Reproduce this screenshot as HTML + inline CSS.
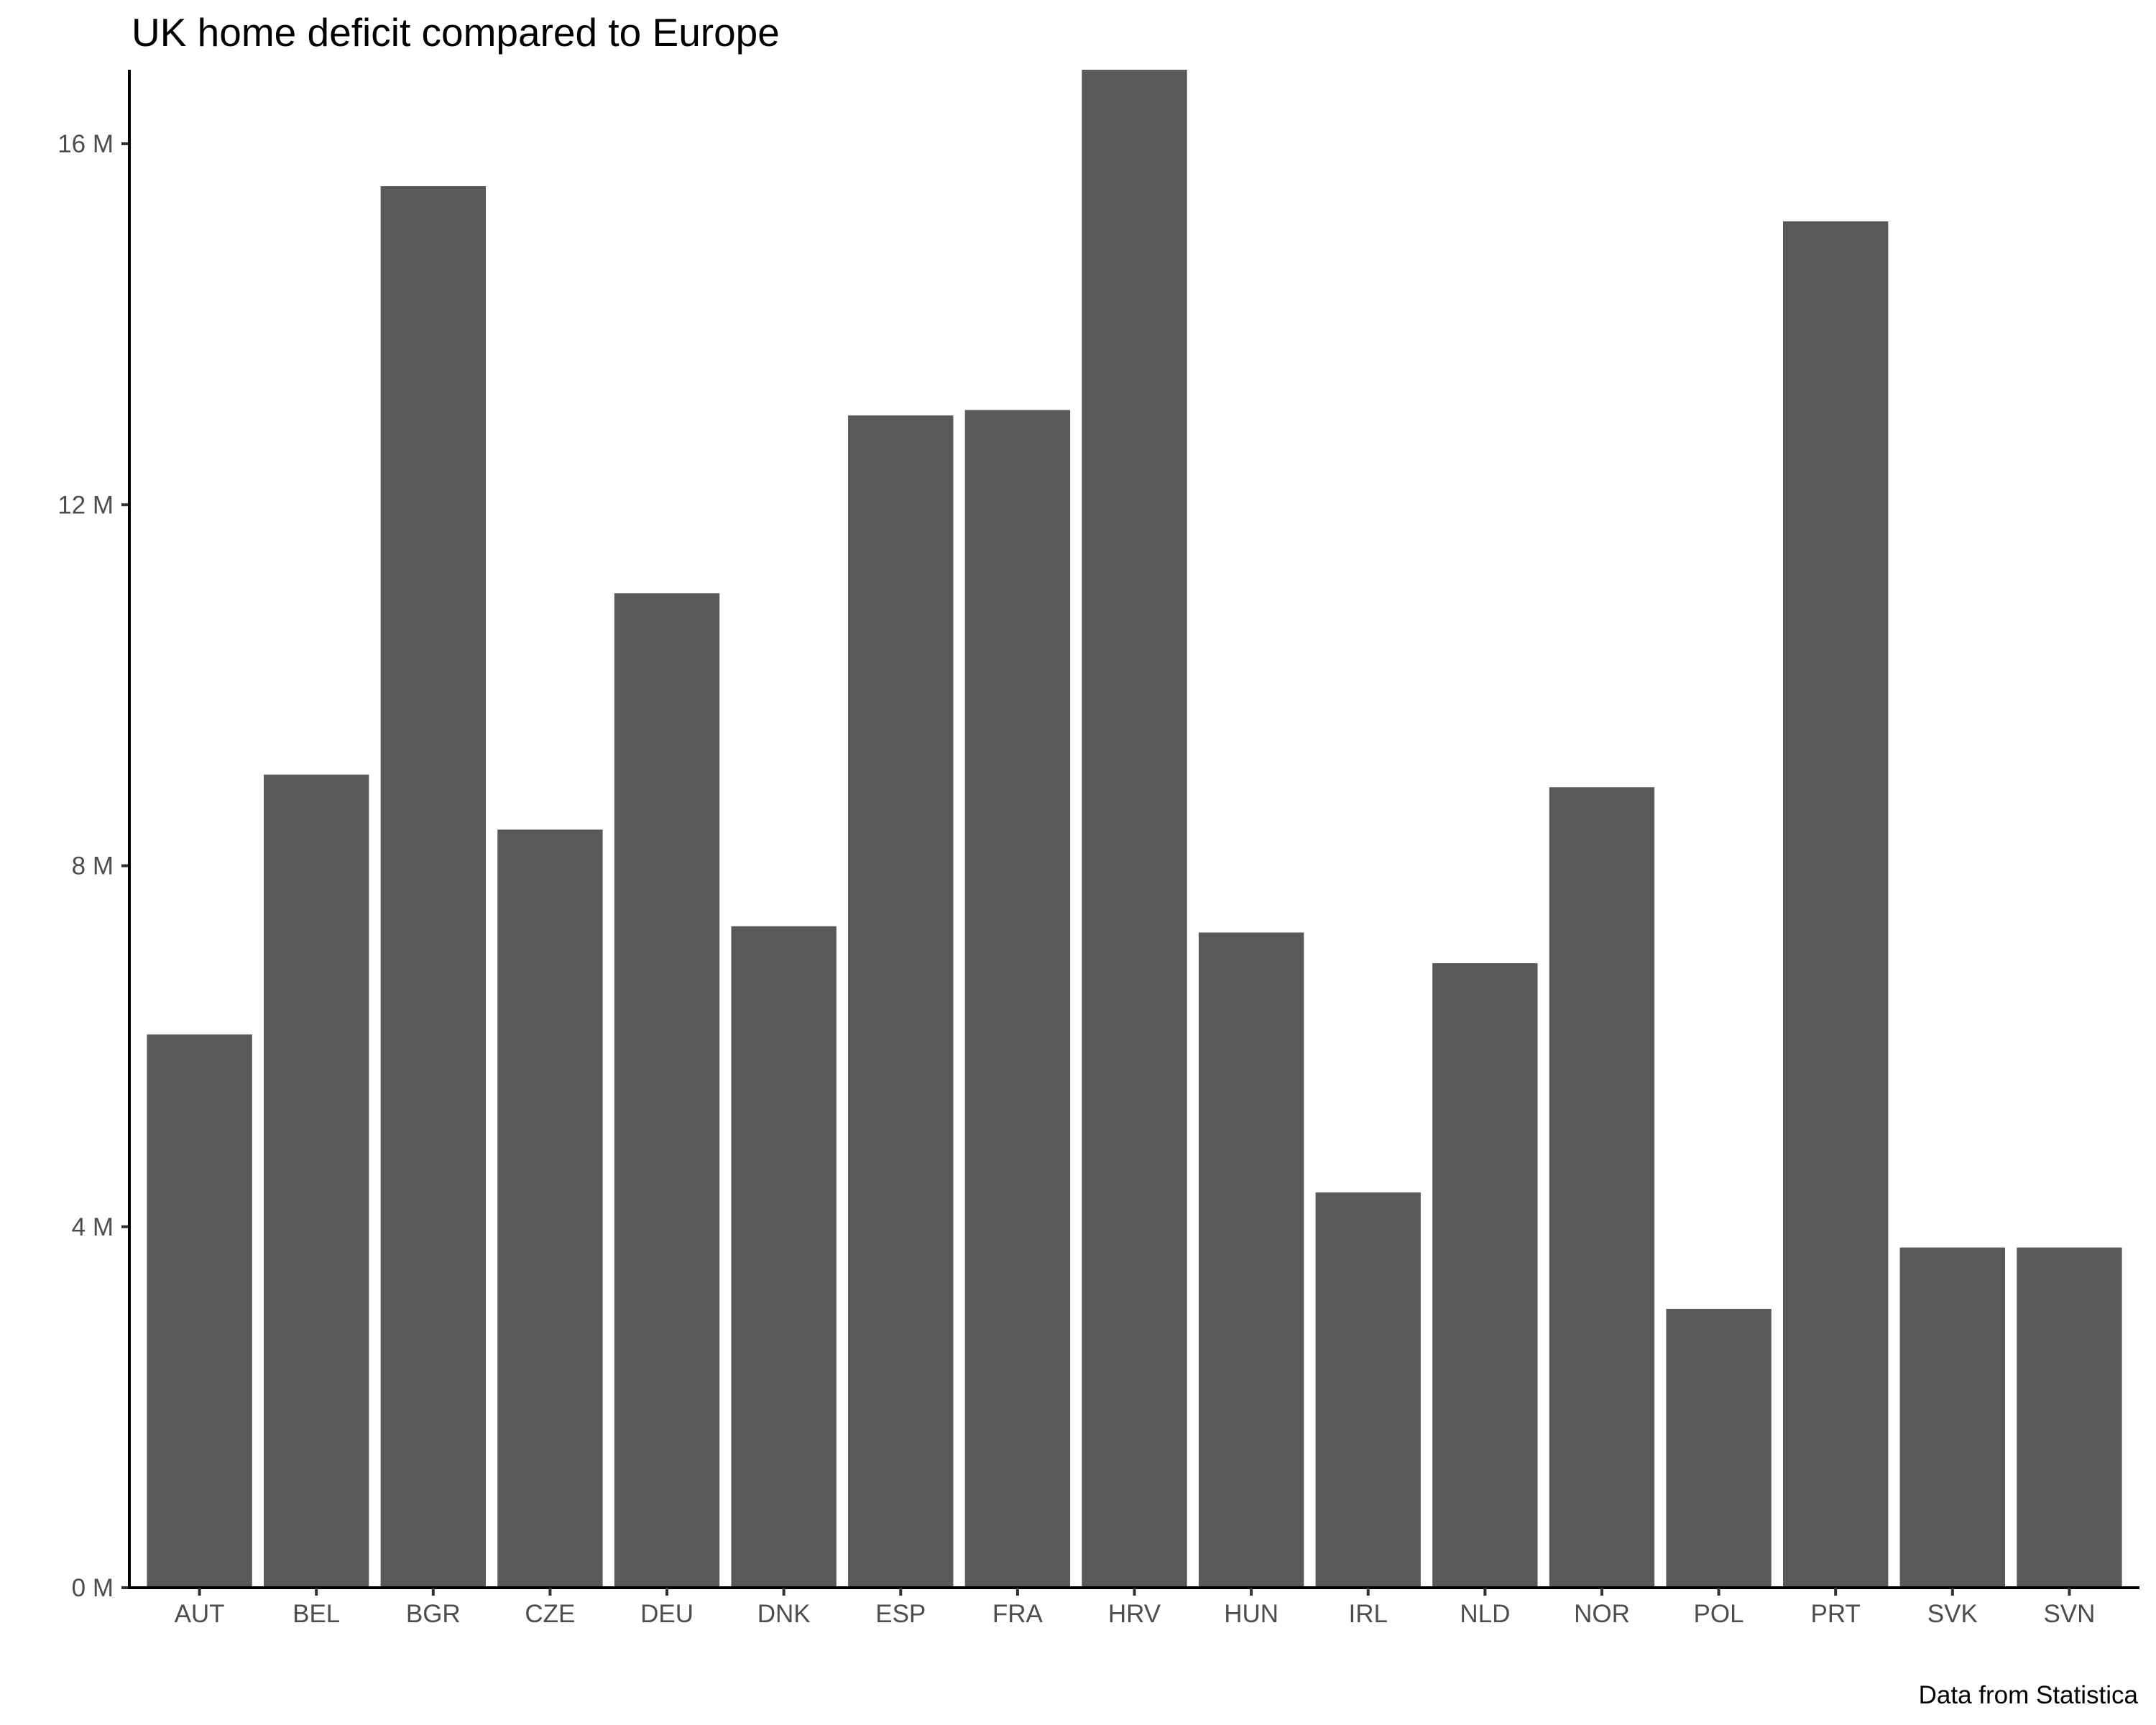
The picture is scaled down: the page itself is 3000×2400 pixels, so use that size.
<!DOCTYPE html>
<html><head><meta charset="utf-8"><style>
html,body{margin:0;padding:0;background:#fff;}
svg{display:block;font-family:"Liberation Sans",Arial,sans-serif;}
</style></head><body>
<svg id="chart" width="3000" height="2400" viewBox="0 0 3000 2400" xmlns="http://www.w3.org/2000/svg">
<rect width="3000" height="2400" fill="#fff"/>
<text x="183" y="64" font-size="55" fill="#000">UK home deficit compared to Europe</text>
<g id="bars"></g>
<g id="yaxis"></g>
<g id="xaxis"></g>
<text x="2975" y="2370" font-size="35" text-anchor="end" fill="#000">Data from Statistica</text>
</svg>
<script>
const categories = ["AUT","BEL","BGR","CZE","DEU","DNK","ESP","FRA","HRV","HUN","IRL","NLD","NOR","POL","PRT","SVK","SVN"];
const values = [6.13,9.01,15.53,8.40,11.02,7.33,12.99,13.05,16.82,7.26,4.38,6.92,8.87,3.09,15.14,3.77,3.77];
const yTicks = [0,4,8,12,16];
const yTickLabels = ["0 M","4 M","8 M","12 M","16 M"];

const NS = "http://www.w3.org/2000/svg";
const left = 180, right = 2977, y0 = 2209, y16 = 200;
const step = (right - left) / (categories.length - 1 + 1.2);
const xc = i => left + step * (0.6 + i);
const ys = v => y0 - (y0 - y16) * v / 16;
const bw = step * 0.9;
function mk(tag, attrs, parent) {
  const e = document.createElementNS(NS, tag);
  for (const k in attrs) e.setAttribute(k, attrs[k]);
  parent.appendChild(e);
  return e;
}
const gb = document.getElementById('bars');
const gy = document.getElementById('yaxis');
const gx = document.getElementById('xaxis');
values.forEach((v, i) => {
  const r = mk('rect', {x: xc(i) - bw / 2, y: ys(v), width: bw, height: y0 - 2 - ys(v), fill: '#595959'}, gb);
  
  
});
yTicks.forEach((t, i) => {
  const l = mk('line', {x1: 169, x2: 180, y1: ys(t), y2: ys(t), stroke: '#333', 'stroke-width': 4}, gy);
  
  
  const tx = mk('text', {x: 158, y: ys(t) + 12, 'font-size': 35, fill: '#4d4d4d', 'text-anchor': 'end'}, gy);
  tx.textContent = yTickLabels[i];
  
  
});
const ya = mk('line', {x1: 180, x2: 180, y1: 97, y2: 2211, stroke: '#000', 'stroke-width': 4}, gy);


const xa = mk('line', {x1: 178, x2: right, y1: y0, y2: y0, stroke: '#000', 'stroke-width': 4}, gx);


categories.forEach((c, i) => {
  const l = mk('line', {x1: xc(i), x2: xc(i), y1: y0, y2: 2220, stroke: '#333', 'stroke-width': 4}, gx);
  
  
  const tx = mk('text', {x: xc(i), y: 2257, 'font-size': 35, fill: '#4d4d4d', 'text-anchor': 'middle'}, gx);
  tx.textContent = c;
  
  
});
</script>
</body></html>
